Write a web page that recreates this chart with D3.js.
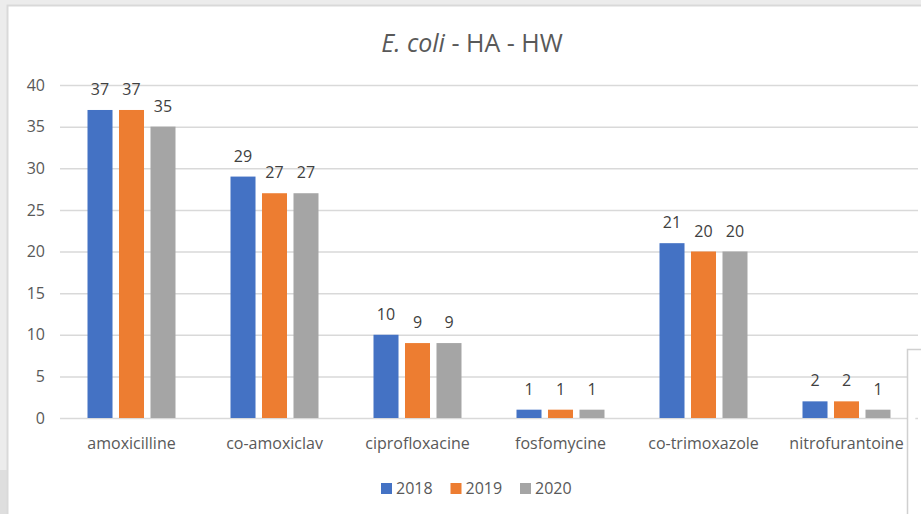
<!DOCTYPE html>
<html>
<head>
<meta charset="utf-8">
<script src="https://cdn.jsdelivr.net/npm/d3@7"></script>
<style>
  body { margin: 0; background: #ececec; }
  svg { display: block; }
  text { font-family: "Open Sans", "Liberation Sans", sans-serif; }
</style>
</head>
<body>
<script>
// chart values
var categories = ["amoxicilline", "co-amoxiclav", "ciprofloxacine", "fosfomycine", "co-trimoxazole", "nitrofurantoine"];
var years = ["2018", "2019", "2020"];
var values2018 = [37, 29, 10, 1, 21, 2];
var values2019 = [37, 27, 9, 1, 20, 2];
var values2020 = [35, 27, 9, 1, 20, 1];
var yTicks = [0, 5, 10, 15, 20, 25, 30, 35, 40];
var colours = ["#4472C4", "#ED7D31", "#A5A5A5"];

var width = 921, height = 514;
var series = [values2018, values2019, values2020];

var svg = d3.select("body").append("svg")
  .attr("width", width)
  .attr("height", height);

// panel background + frame
svg.append("rect").attr("x", 0).attr("y", 0).attr("width", width).attr("height", height).attr("fill", "#ececec");
svg.append("rect").attr("x", 0).attr("y", 470).attr("width", 8).attr("height", 44).attr("fill", "#dedede");
svg.append("rect").attr("x", 7.5).attr("y", 5.5).attr("width", width).attr("height", height)
  .attr("fill", "#ffffff").attr("stroke", "#d9d9d9").attr("stroke-width", 2);

var x = d3.scaleBand().domain(categories).range([60, 918]);
var xs = d3.scaleBand().domain(years).range([-44, 44]).paddingInner(0.206);
var y = d3.scaleLinear().domain([0, 40]).range([418, 85]);

// y axis with gridlines
var yAxis = svg.append("g")
  .attr("transform", "translate(60,0)")
  .call(d3.axisLeft(y).tickValues(yTicks).tickSize(-858).tickPadding(15));
yAxis.select(".domain").remove();
yAxis.selectAll("line").attr("stroke", "#d9d9d9").attr("stroke-width", 1.5);
yAxis.selectAll("text").attr("fill", "#595959").style("font-size", "16px");

// bars
var groups = svg.append("g").selectAll("g")
  .data(categories)
  .join("g")
  .attr("transform", function (d) { return "translate(" + (x(d) + x.bandwidth() / 2) + ",0)"; });

groups.each(function (cat, ci) {
  var g = d3.select(this);
  years.forEach(function (yr, si) {
    var v = series[si][ci];
    g.append("rect")
      .attr("x", xs(yr))
      .attr("y", y(v))
      .attr("width", xs.bandwidth())
      .attr("height", y(0) - y(v))
      .attr("fill", colours[si]);
    g.append("text")
      .attr("x", xs(yr) + xs.bandwidth() / 2)
      .attr("y", y(v) - 15)
      .attr("text-anchor", "middle")
      .attr("fill", "#404040")
      .style("font-size", "16px")
      .text(v);
  });
});

// x axis labels
var xAxis = svg.append("g")
  .attr("transform", "translate(0,418)")
  .call(d3.axisBottom(x).tickSize(0).tickPadding(20));
xAxis.select(".domain").remove();
xAxis.selectAll("text").attr("fill", "#595959").style("font-size", "16px");

// overlapping box at the right edge
svg.append("path")
  .attr("d", "M907.5,514 V349.5 H921")
  .attr("fill", "#ffffff")
  .attr("stroke", "#d0d0d0")
  .attr("stroke-width", 1.5);

// title
var title = svg.append("text")
  .attr("x", 472)
  .attr("y", 52)
  .attr("text-anchor", "middle")
  .attr("fill", "#595959")
  .style("font-size", "25px");
title.append("tspan").style("font-style", "italic").text("E. coli");
title.append("tspan").text(" - HA - HW");

// legend
var lx = d3.scalePoint().domain(years).range([381, 520]);
var legend = svg.append("g").selectAll("g")
  .data(years)
  .join("g")
  .attr("transform", function (d) { return "translate(" + lx(d) + ",483)"; });
legend.append("rect")
  .attr("width", 11).attr("height", 11)
  .attr("fill", function (d, i) { return colours[i]; });
legend.append("text")
  .attr("x", 15).attr("y", 11)
  .attr("fill", "#595959")
  .style("font-size", "16px")
  .text(function (d) { return d; });
</script>
</body>
</html>
